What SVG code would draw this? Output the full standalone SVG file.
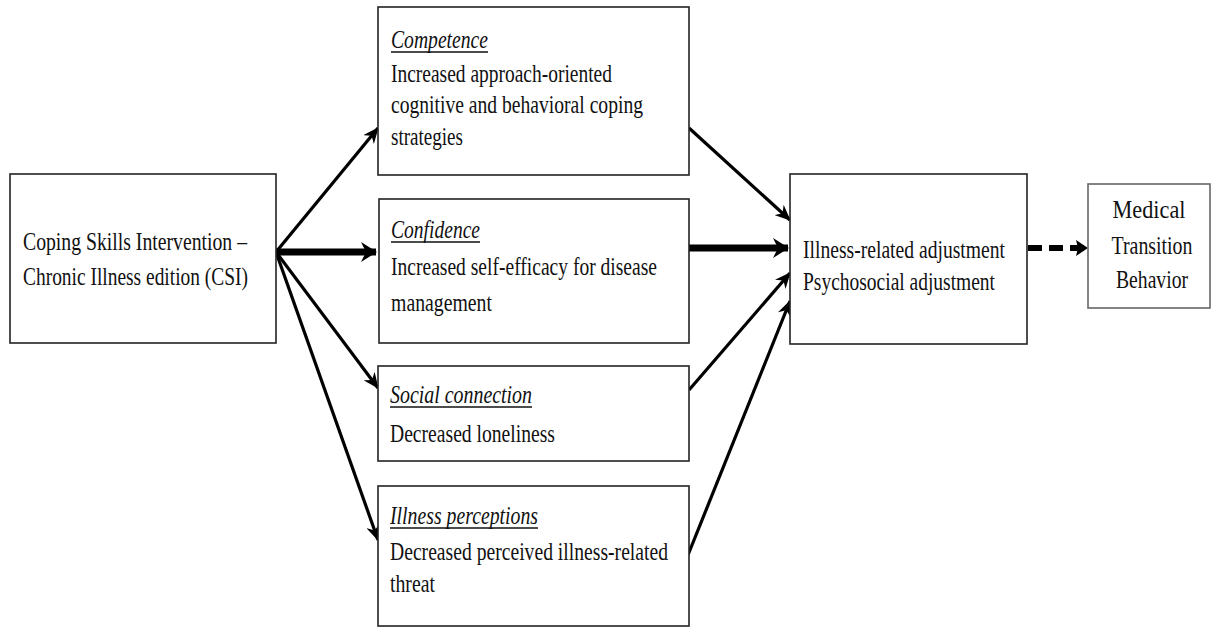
<svg xmlns="http://www.w3.org/2000/svg" width="1213" height="629" viewBox="0 0 1213 629">
<defs>
<style>
.box{fill:#fff;stroke:#222;stroke-width:1.6}
.t{font-family:"Liberation Serif","Times New Roman",serif;font-size:25px;fill:#111}
.it{font-style:italic}
.ul{stroke:#111;stroke-width:1.3}
.c{fill:none;stroke:#000;stroke-width:3.2}
.ct{fill:none;stroke:#000;stroke-width:7}
.cd{fill:none;stroke:#000;stroke-width:6;stroke-dasharray:14 7}
</style>
<marker id="ah" viewBox="0 0 16 14" refX="15" refY="7" markerWidth="16" markerHeight="14" markerUnits="userSpaceOnUse" orient="auto">
<path d="M0,0 L16,7 L0,14 L5,7 z" fill="#000"/>
</marker>
<marker id="ahT" viewBox="0 0 16 20" refX="15" refY="10" markerWidth="16" markerHeight="22" markerUnits="userSpaceOnUse" orient="auto">
<path d="M0,0 L16,10 L0,20 L5,10 z" fill="#000"/>
</marker>
<marker id="ahD" viewBox="0 0 12 16" refX="11" refY="8" markerWidth="12" markerHeight="16" markerUnits="userSpaceOnUse" orient="auto">
<path d="M0,0 L12,8 L0,16 L2,8 z" fill="#000"/>
</marker>
</defs>
<rect width="1213" height="629" fill="#fff"/>

<g id="connectors">
<line class="c" x1="276" y1="252" x2="378" y2="128" marker-end="url(#ah)"/>
<line class="ct" x1="276" y1="252" x2="376" y2="252" marker-end="url(#ahT)"/>
<line class="c" x1="276" y1="252" x2="378" y2="388" marker-end="url(#ah)"/>
<line class="c" x1="276" y1="252" x2="378" y2="540" marker-end="url(#ah)"/>
<line class="c" x1="689" y1="128" x2="790" y2="220" marker-end="url(#ah)"/>
<line class="ct" x1="689" y1="248" x2="788" y2="248" marker-end="url(#ahT)"/>
<line class="c" x1="689" y1="390" x2="790" y2="273" marker-end="url(#ah)"/>
<line class="c" x1="688" y1="555" x2="790" y2="301" marker-end="url(#ah)"/>
<line class="cd" x1="1028" y1="248" x2="1087" y2="248" marker-end="url(#ahD)"/>
</g>

<g id="csi">
<rect class="box" x="10" y="174" width="266" height="169"/>
<text class="t" x="23" y="250" font-size="27" textLength="224" lengthAdjust="spacingAndGlyphs">Coping Skills Intervention –</text>
<text class="t" x="23" y="285" font-size="27" textLength="225" lengthAdjust="spacingAndGlyphs">Chronic Illness edition (CSI)</text>
</g>

<g id="competence">
<rect class="box" x="378" y="7" width="311" height="168"/>
<text class="t it" x="391" y="48" textLength="97" lengthAdjust="spacingAndGlyphs">Competence</text>
<line class="ul" x1="391" y1="52" x2="488" y2="52"/>
<text class="t" x="391" y="82" textLength="221" lengthAdjust="spacingAndGlyphs">Increased approach-oriented</text>
<text class="t" x="391" y="113" textLength="252" lengthAdjust="spacingAndGlyphs">cognitive and behavioral coping</text>
<text class="t" x="391" y="145" textLength="72" lengthAdjust="spacingAndGlyphs">strategies</text>
</g>

<g id="confidence">
<rect class="box" x="379" y="199" width="310" height="144"/>
<text class="t it" x="391" y="238" textLength="89" lengthAdjust="spacingAndGlyphs">Confidence</text>
<line class="ul" x1="391" y1="242" x2="480" y2="242"/>
<text class="t" x="391" y="275" textLength="266" lengthAdjust="spacingAndGlyphs">Increased self-efficacy for disease</text>
<text class="t" x="391" y="311" textLength="101" lengthAdjust="spacingAndGlyphs">management</text>
</g>

<g id="social">
<rect class="box" x="378" y="366" width="311" height="95"/>
<text class="t it" x="390" y="403" textLength="142" lengthAdjust="spacingAndGlyphs">Social connection</text>
<line class="ul" x1="390" y1="407" x2="532" y2="407"/>
<text class="t" x="390" y="442" textLength="165" lengthAdjust="spacingAndGlyphs">Decreased loneliness</text>
</g>

<g id="illness">
<rect class="box" x="378" y="486" width="311" height="140"/>
<text class="t it" x="390" y="524" textLength="148" lengthAdjust="spacingAndGlyphs">Illness perceptions</text>
<line class="ul" x1="390" y1="528" x2="538" y2="528"/>
<text class="t" x="390" y="560" textLength="278" lengthAdjust="spacingAndGlyphs">Decreased perceived illness-related</text>
<text class="t" x="390" y="592" textLength="45" lengthAdjust="spacingAndGlyphs">threat</text>
</g>

<g id="outcome">
<rect class="box" x="790" y="174" width="237" height="170"/>
<text class="t" x="803" y="258" textLength="202" lengthAdjust="spacingAndGlyphs">Illness-related adjustment</text>
<text class="t" x="803" y="290" textLength="192" lengthAdjust="spacingAndGlyphs">Psychosocial adjustment</text>
</g>

<g id="medical">
<rect class="box" x="1088" y="184" width="122" height="124" style="stroke:#666"/>
<text class="t" x="1149" y="218" text-anchor="middle" textLength="73" lengthAdjust="spacingAndGlyphs">Medical</text>
<text class="t" x="1152" y="254" text-anchor="middle" textLength="81" lengthAdjust="spacingAndGlyphs">Transition</text>
<text class="t" x="1152" y="288" text-anchor="middle" textLength="72" lengthAdjust="spacingAndGlyphs">Behavior</text>
</g>
</svg>
